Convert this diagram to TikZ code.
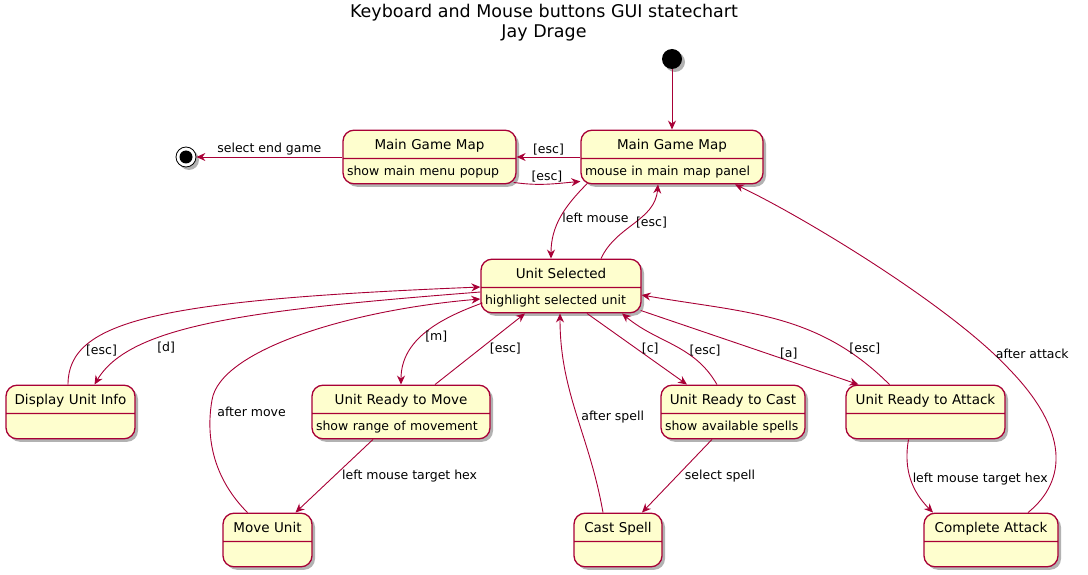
\documentclass[tikz,border=0pt]{standalone}
\usepackage{fontspec}
\setmainfont{DejaVu Sans}
\usetikzlibrary{shapes.multipart}
\usetikzlibrary{shadows}
\usetikzlibrary{arrows.meta}
\definecolor{umlred}{HTML}{A80036}
\definecolor{umlfill}{HTML}{FEFECE}
\newcommand{\sname}[1]{\makebox[\hsize][c]{\rule[-4pt]{0pt}{19pt}#1}}
\newcommand{\sdesc}[1]{\fontsize{12.5}{15}\selectfont\makebox[\hsize][l]{\rule[-4pt]{0pt}{16pt}#1}}
\tikzstyle{st}=[draw=umlred, fill=umlfill, line width=1.3pt, rounded corners=11pt, rectangle split, rectangle split parts=2, inner xsep=4pt, inner ysep=4pt, align=center, font=\fontsize{13.5}{16}\selectfont, drop shadow={shadow xshift=3pt, shadow yshift=-3pt, opacity=.3, fill=black}]
\tikzstyle{init}=[circle, fill=black, minimum size=20pt, inner sep=0pt, drop shadow={shadow xshift=3pt, shadow yshift=-3pt, opacity=.3, fill=black}]
\tikzstyle{fin}=[circle, draw=black, line width=0.8pt, fill=white, minimum size=20pt, inner sep=0pt, path picture={\fill [black] (path picture bounding box.center) circle (6.5pt);}, drop shadow={shadow xshift=3pt, shadow yshift=-3pt, opacity=.3, fill=black}]
\tikzstyle{tr}=[draw=umlred, line width=0.9pt, -{Stealth[length=9pt,width=8pt,inset=3pt]}]
\tikzstyle{lb}=[font=\fontsize{12.5}{15}\selectfont, inner sep=1.5pt, text=black]

\begin{document}
\begin{tikzpicture}[x=1pt, y=-1pt]
\useasboundingbox (0,0) rectangle (1088,575);
\node [align=center, font=\fontsize{17.5}{20}\selectfont] (t) at (544,23) {Keyboard and Mouse buttons GUI statechart\\Jay Drage};

\node [init] (i) at (672,59) {};
\node [fin] (e) at (186,157) {};
\node [st, text width=174pt] (m) at (672,157) {\sname{Main Game Map}\nodepart{two}\sdesc{mouse in main map panel}};
\node [st, text width=165pt] (pop) at (429.5,157) {\sname{Main Game Map}\nodepart{two}\sdesc{show main menu popup}};
\node [st, text width=152pt] (us) at (561,286) {\sname{Unit Selected}\nodepart{two}\sdesc{highlight selected unit}};
\node [st, text width=121pt] (dui) at (70.5,412) {\sname{Display Unit Info}\nodepart{two}\sdesc{}};
\node [st, text width=170pt] (urm) at (401,412) {\sname{Unit Ready to Move}\nodepart{two}\sdesc{show range of movement}};
\node [st, text width=136pt] (urc) at (733,412) {\sname{Unit Ready to Cast}\nodepart{two}\sdesc{show available spells}};
\node [st, text width=151pt] (ura) at (925.5,412) {\sname{Unit Ready to Attack}\nodepart{two}\sdesc{}};
\node [st, text width=81pt] (mu) at (267.5,540) {\sname{Move Unit}\nodepart{two}\sdesc{}};
\node [st, text width=80pt] (cs) at (618,540) {\sname{Cast Spell}\nodepart{two}\sdesc{}};
\node [st, text width=126pt] (ca) at (991,540) {\sname{Complete Attack}\nodepart{two}\sdesc{}};

% main map
\draw [tr] (i) -- (m);
\draw [tr] (m) -- (pop) node [lb, midway, above] {[esc]};
\draw [tr] ([shift={(-3pt,2pt)}]pop.south east) to [out=-8, in=185] node [lb, midway, above] {[esc]} ([yshift=3pt]m.south west);
\draw [tr] (pop) -- (e) node [lb, midway, above] {select end game};
\draw [tr] ([shift={(7pt,1pt)}]m.south west) to [out=-135, in=90] node [lb, midway, right] {left mouse} ([xshift=-10pt]us.north);
\draw [tr] ([xshift=40pt]us.north) to [out=65, in=-95] node [lb, midway, right] {[esc]} ([xshift=-14pt]m.south);
\draw [tr] ([xshift=37pt]ca.north) .. controls (1068,480) and (1068,430) .. (1010,370) .. controls (950,305) and (800,215) .. ([xshift=63pt]m.south) node [lb, pos=0.08, right] {after attack};

% unit selected
\draw [tr] ([xshift=-2.5pt]dui.north) .. controls (68,320) and (160,300) .. ([yshift=-1pt]us.west) node [lb, pos=0.2, right=4pt] {[esc]};
\draw [tr] ([yshift=-6pt]us.west) .. controls (250,310) and (130,325) .. ([xshift=24pt]dui.north) node [lb, pos=0.75, right=18pt] {[d]};
\draw [tr] ([xshift=-20pt]mu.north) .. controls (215,480) and (205,440) .. (212,400) node [lb, pos=0.9, right=5pt] {after move} .. controls (220,350) and (350,310) .. ([yshift=-13pt]us.west);
\draw [tr] ([shift={(2pt,-17pt)}]us.west) to [out=200, in=90] node [lb, pos=0.55, right=2pt] {[m]} (urm.north);
\draw [tr] ([xshift=34pt]urm.north) -- ([xshift=-36pt]us.south) node [lb, midway, right=8pt] {[esc]};
\draw [tr] ([xshift=-28pt]urm.south) -- ([xshift=28pt]mu.north) node [lb, midway, right=6pt] {left mouse target hex};
\draw [tr] ([xshift=-15pt]cs.north) to [out=100, in=-90] node [lb, pos=0.48, right=2pt] {after spell} ([xshift=-1pt]us.south);
\draw [tr] ([xshift=26pt]us.south) -- ([xshift=-46pt]urc.north) node [lb, midway, right=3pt] {[c]};
\draw [tr] ([xshift=-16pt]urc.north) to [out=120, in=-40] node [lb, pos=0.4, right=4pt] {[esc]} ([xshift=61pt]us.south);
\draw [tr] ([xshift=-21pt]urc.south) -- ([xshift=24pt]cs.north) node [lb, midway, right=6pt] {select spell};
\draw [tr] ([shift={(-1pt,3pt)}]us.south east) -- ([xshift=-67pt]ura.north) node [lb, pos=0.68, above] {[a]};
\draw [tr] ([xshift=-36pt]ura.north) to [out=135, in=-10] node [lb, pos=0.2, right=2pt] {[esc]} ([yshift=-9pt]us.east);
\draw [tr] ([xshift=-17pt]ura.south) to [out=-100, in=135] node [lb, pos=0.5, right=0pt] {left mouse target hex} ([xshift=-58pt]ca.north);
\end{tikzpicture}
\end{document}
